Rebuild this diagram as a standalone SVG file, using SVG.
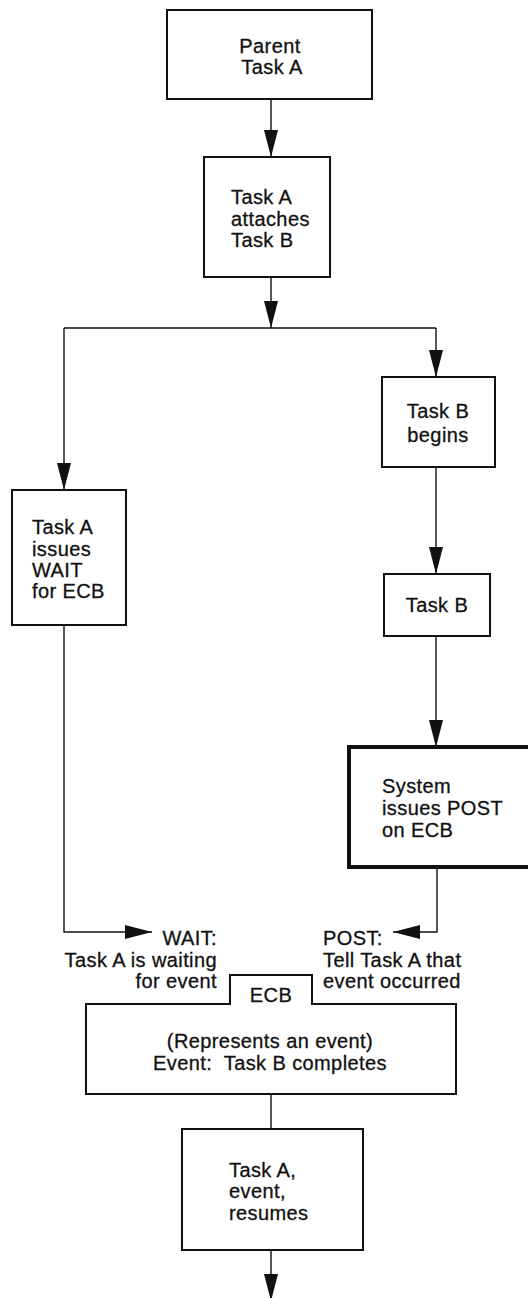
<svg xmlns="http://www.w3.org/2000/svg" width="528" height="1298" viewBox="0 0 528 1298">
<style>
text{font-family:"Liberation Sans",Arial,sans-serif;font-size:20px;letter-spacing:0.4px;fill:#111;stroke:#111;stroke-width:0.3;white-space:pre}
.box{fill:#fff;stroke:#111;stroke-width:2}
.thick{fill:#fff;stroke:#111;stroke-width:4}
.c{text-anchor:middle}
.r{text-anchor:end}
.conn{fill:none;stroke:#111;stroke-width:1.4}
</style>
<defs>
<marker id="ah" viewBox="0 0 27 14" refX="27" refY="7" markerWidth="27" markerHeight="14" markerUnits="userSpaceOnUse" orient="auto">
<path d="M0,0 L27,7 L0,14 Z" fill="#111"/>
</marker>
</defs>
<g id="connectors">
<line class="conn" x1="271" y1="99" x2="271" y2="157" marker-end="url(#ah)"/>
<line class="conn" x1="271" y1="277" x2="271" y2="328" marker-end="url(#ah)"/>
<polyline class="conn" points="64,328 436,328"/>
<line class="conn" x1="64" y1="328" x2="64" y2="490" marker-end="url(#ah)"/>
<line class="conn" x1="436" y1="328" x2="436" y2="377" marker-end="url(#ah)"/>
<line class="conn" x1="436" y1="467" x2="436" y2="574" marker-end="url(#ah)"/>
<line class="conn" x1="436" y1="636" x2="436" y2="747" marker-end="url(#ah)"/>
<polyline class="conn" points="437,867 437,932 393,932" marker-end="url(#ah)"/>
<polyline class="conn" points="64,625 64,932 152,932" marker-end="url(#ah)"/>
<line class="conn" x1="271" y1="1094" x2="271" y2="1129"/>
<line class="conn" x1="271" y1="1250" x2="271" y2="1301" marker-end="url(#ah)"/>
</g>
<g id="parent">
<rect class="box" x="167" y="10" width="205" height="89"/>
<text class="c" x="270" y="53">Parent</text>
<text class="c" x="272" y="74">Task A</text>
</g>
<g id="attach">
<rect class="box" x="204" y="157" width="126" height="120"/>
<text x="231" y="204">Task A</text>
<text x="231" y="226">attaches</text>
<text x="231" y="247">Task B</text>
</g>
<g id="wait">
<rect class="box" x="12" y="490" width="114" height="135"/>
<text x="32" y="534">Task A</text>
<text x="32" y="556">issues</text>
<text x="32" y="577">WAIT</text>
<text x="32" y="598">for ECB</text>
</g>
<g id="begins">
<rect class="box" x="382" y="377" width="113" height="90"/>
<text class="c" x="438" y="418">Task B</text>
<text class="c" x="438" y="442">begins</text>
</g>
<g id="taskb">
<rect class="box" x="384" y="574" width="106" height="62"/>
<text class="c" x="437" y="612">Task B</text>
</g>
<g id="post">
<rect class="thick" x="349" y="747" width="190" height="120"/>
<text x="382" y="793">System</text>
<text x="382" y="815">issues POST</text>
<text x="382" y="837">on ECB</text>
</g>
<g id="wait-label">
<text class="r" x="217" y="945">WAIT:</text>
<text class="r" x="217" y="967">Task A is waiting</text>
<text class="r" x="217" y="988">for event</text>
</g>
<g id="post-label">
<text x="323" y="945">POST:</text>
<text x="323" y="967">Tell Task A that</text>
<text x="323" y="988">event occurred</text>
</g>
<g id="ecb">
<path class="box" d="M86,1004 H230 V975 H312 V1004 H456 V1094 H86 Z"/>
<text class="c" x="271" y="1002">ECB</text>
<text class="c" x="270" y="1048">(Represents an event)</text>
<text class="c" x="270" y="1070">Event:  Task B completes</text>
</g>
<g id="resumes">
<rect class="box" x="182" y="1129" width="181" height="121"/>
<text x="229" y="1177">Task A,</text>
<text x="229" y="1198">event,</text>
<text x="229" y="1220">resumes</text>
</g>
</svg>
